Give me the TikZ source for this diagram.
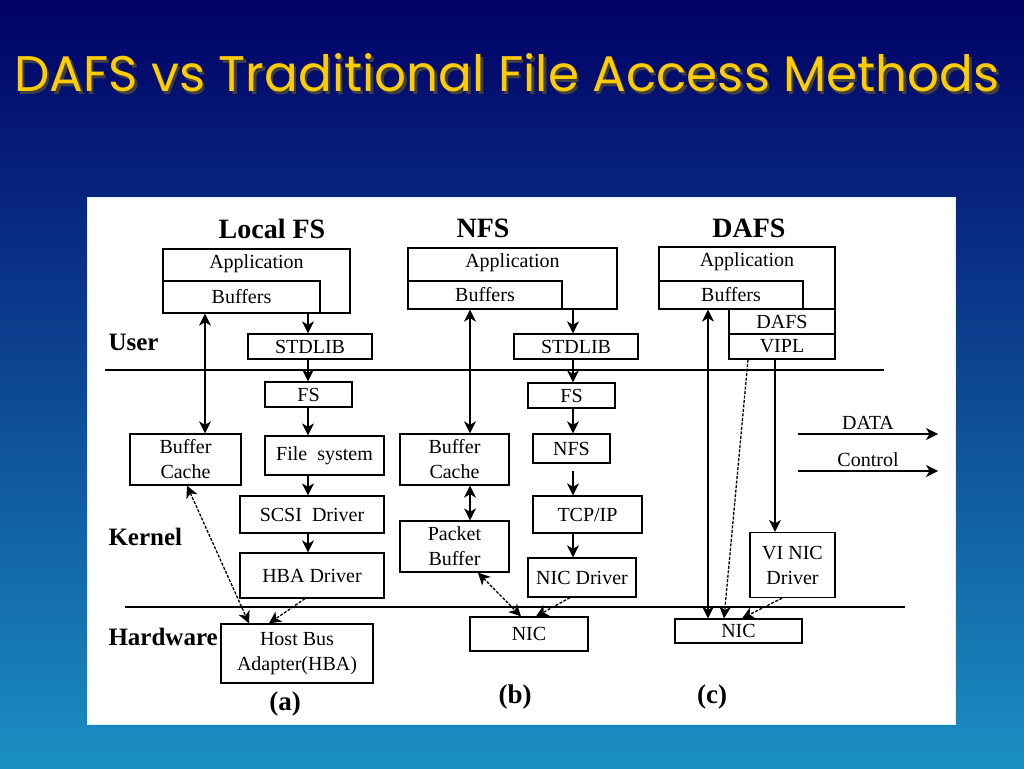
\documentclass[tikz,border=0pt]{standalone}
\usepackage{fontspec}
\setmainfont{Liberation Serif}
\newfontfamily\titlefont{Poppins}
\usepackage{xcolor}
\usetikzlibrary{positioning,arrows.meta}
\tikzset{c-box/.style={rectangle, draw=black, line width=1.3pt, fill=white, inner sep=0pt, align=center, font=\fontsize{20}{25}\selectfont},
c-head/.style={font=\bfseries\fontsize{28}{30}\selectfont},
c-side/.style={anchor=west, font=\bfseries\fontsize{25}{28}\selectfont},
c-sub/.style={font=\bfseries\fontsize{27}{30}\selectfont},
arrow/.style={line width=1.3pt,->,>={Stealth[length=12pt,width=12pt,inset=3.5pt]}},
darrow/.style={arrow, line width=1.3pt, dash pattern=on 3pt off 1.5pt}}
\definecolor{c_title}{RGB}{255,204,0}
\definecolor{c_top}{RGB}{0,0,102}
\definecolor{c_bottom}{RGB}{26,143,194}
\definecolor{c_edge}{RGB}{215,245,255}
\newcommand{\titletext}{DAFS vs Traditional File Access Methods}

\begin{document}
\begin{tikzpicture}[x=1pt, y=1pt]
\useasboundingbox (0,0) rectangle (1024,-768);
\shade [top color=c_top, bottom color=c_bottom] (0,0) rectangle (1024,-768);
% title with its shadow
\node (title) at (507,-74) {\titlefont\fontsize{50}{54}\selectfont
\makebox[0pt][l]{\kern2.5pt\raisebox{-2.5pt}{\color{black!75}\titletext}}\color{c_title}\titletext};
\draw [fill=white, draw=c_edge, line width=1pt] (87,-197) rectangle (955,-724);

% layers
\node (user) [c-side] at (105,-342) {User};
\node (kernel) [c-side] at (105,-537) {Kernel};
\node (hardware) [c-side] at (105,-637) {Hardware};
\coordinate (u0) at (105,-370);
\coordinate (u1) at (884,-370);
\coordinate (h0) at (125,-607);
\coordinate (h1) at (905,-607);
\draw [line width=1.3pt] (u0) -- (u1);
\draw [line width=1.3pt] (h0) -- (h1);

% (a) local FS
\node (head1) [c-head] at (272,-229) {Local FS};
\node (app1) [c-box, minimum width=187pt, text height=19pt, text depth=45pt] at (256.5,-281) {Application};
\node (buf1) [c-box, minimum width=157pt, minimum height=32pt] at (241.5,-297) {Buffers};
\node (std1) [c-box, minimum width=124pt, minimum height=25pt] at (310,-346.5) {STDLIB};
\node (fs1) [c-box, minimum width=87pt, minimum height=25pt] at (308.5,-394.5) {FS};
\node (bc1) [c-box, minimum width=111pt, minimum height=51pt] at (185.5,-459.5) {Buffer\\Cache};
\node (fsys1) [c-box, minimum width=119pt, minimum height=39pt] at (324.5,-455.5) {File~ system};
\node (scsi1) [c-box, minimum width=144pt, minimum height=37pt] at (312,-514.5) {SCSI~ Driver};
\node (hbad1) [c-box, minimum width=144pt, minimum height=45pt] at (312,-575.5) {HBA Driver};
\node (hba1) [c-box, minimum width=152pt, minimum height=59pt] at (297,-653.5) {Host Bus\\Adapter(HBA)};
\node (sub1) [c-sub] at (285,-704) {(a)};

% (b) NFS
\node (head2) [c-head] at (483,-228) {NFS};
\node (app2) [c-box, minimum width=209pt, text height=19pt, text depth=42pt] at (512.5,-278.5) {Application};
\node (buf2) [c-box, minimum width=154pt, minimum height=28pt] at (485,-295) {Buffers};
\node (std2) [c-box, minimum width=124pt, minimum height=25pt] at (576,-346.5) {STDLIB};
\node (fs2) [c-box, minimum width=87pt, minimum height=25pt] at (571.5,-395.5) {FS};
\node (bc2) [c-box, minimum width=109pt, minimum height=51pt] at (454.5,-459.5) {Buffer\\Cache};
\node (nfs2) [c-box, minimum width=77pt, minimum height=29pt] at (571.5,-448.5) {NFS};
\node (tcp2) [c-box, minimum width=109pt, minimum height=37pt] at (587.5,-514.5) {TCP/IP};
\node (pb2) [c-box, minimum width=109pt, minimum height=51pt] at (454.5,-546.5) {Packet\\Buffer};
\node (nicd2) [c-box, minimum width=108pt, minimum height=39pt] at (582,-577.5) {NIC Driver};
\node (nic2) [c-box, minimum width=118pt, minimum height=34pt] at (529,-634) {NIC};
\node (sub2) [c-sub] at (515,-697) {(b)};

% (c) DAFS
\node (head3) [c-head] at (749,-228) {DAFS};
\node (app3) [c-box, minimum width=176pt, text height=19pt, text depth=43pt] at (747,-278) {Application};
\node (buf3) [c-box, minimum width=144pt, minimum height=28pt] at (731,-295) {Buffers};
\node (dafs3) [c-box, minimum width=106pt, minimum height=25pt] at (782,-321.5) {DAFS};
\node (vipl3) [c-box, minimum width=106pt, minimum height=25pt] at (782,-346.5) {VIPL};
\node (vinic3) [c-box, minimum width=85pt, minimum height=65pt] at (792.5,-565) {VI NIC\\Driver};
\node (nic3) [c-box, minimum width=127pt, minimum height=24pt] at (738.5,-631) {NIC};
\node (sub3) [c-sub] at (712,-697) {(c)};

% columns of the vertical arrows
\coordinate (da) at (205,0);
\coordinate (ca) at (308,0);
\coordinate (db) at (470,0);
\coordinate (cb) at (573,0);
\coordinate (dc) at (708,0);
\coordinate (cc) at (775,0);

\draw [arrow, <->] (buf1.south -| da) -- (bc1.north -| da);
\draw [arrow] (buf1.south -| ca) -- (std1.north -| ca);
\draw [arrow] (std1.south -| ca) -- (fs1.north -| ca);
\draw [arrow] (fs1.south -| ca) -- (fsys1.north -| ca);
\draw [arrow] (fsys1.south -| ca) -- (scsi1.north -| ca);
\draw [arrow] (scsi1.south -| ca) -- (hbad1.north -| ca);
\draw [darrow, <->] ([xshift=1.5pt]bc1.south) -- ([xshift=-48pt]hba1.north);
\draw [darrow] ([xshift=-7pt]hbad1.south) -- ([xshift=-28pt]hba1.north);

\draw [arrow, <->] (buf2.south -| db) -- (bc2.north -| db);
\draw [arrow, <->] (bc2.south -| db) -- (pb2.north -| db);
\draw [arrow] (buf2.south -| cb) -- (std2.north -| cb);
\draw [arrow] (std2.south -| cb) -- (fs2.north -| cb);
\draw [arrow] (fs2.south -| cb) -- (nfs2.north -| cb);
\draw [arrow, shorten <=7pt] (nfs2.south -| cb) -- (tcp2.north -| cb);
\draw [arrow] (tcp2.south -| cb) -- (nicd2.north -| cb);
\draw [darrow, <->] ([xshift=23.5pt]pb2.south) -- ([xshift=-8pt]nic2.north);
\draw [darrow] ([xshift=-12pt]nicd2.south) -- ([xshift=7pt]nic2.north);

\draw [arrow, <->] (buf3.south -| dc) -- (nic3.north -| dc);
\draw [arrow] (vipl3.south -| cc) -- (vinic3.north -| cc);
\draw [darrow] ([xshift=-34pt]vipl3.south) -- ([xshift=-14.5pt]nic3.north);
\draw [darrow] ([xshift=-10.5pt]vinic3.south) -- ([xshift=3.5pt]nic3.north);

% legend
\coordinate (d0) at (798,-434);
\coordinate (d1) at (938,-434);
\coordinate (k0) at (798,-471);
\coordinate (k1) at (938,-471);
\draw [arrow] (d0) -- node[above, font=\fontsize{20}{24}\selectfont] (ldata) {DATA} (d1);
\draw [arrow] (k0) -- node[above, font=\fontsize{20}{24}\selectfont] (lctrl) {Control} (k1);
\end{tikzpicture}
\end{document}
